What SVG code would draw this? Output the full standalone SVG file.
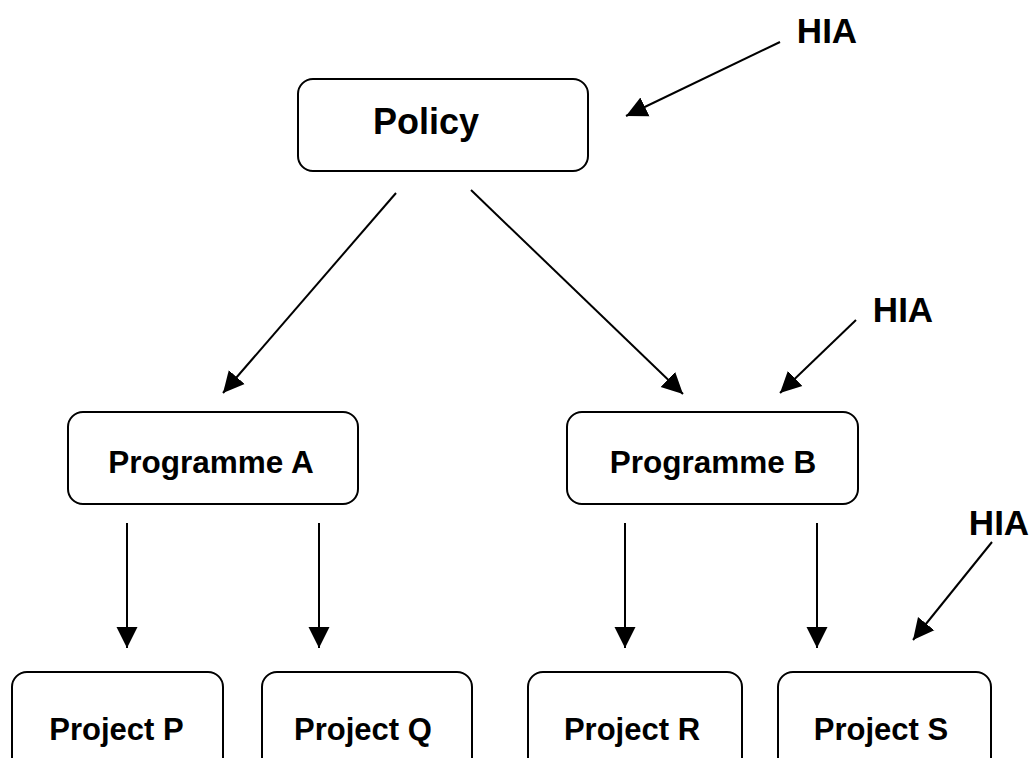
<svg xmlns="http://www.w3.org/2000/svg" width="1032" height="758" viewBox="0 0 1032 758">
<style>
.box{fill:#fff;stroke:#000;stroke-width:2}
.t{font-family:"Liberation Sans",Arial,sans-serif;font-weight:bold;fill:#000;text-anchor:middle}
.c{stroke:#000;stroke-width:2;fill:none;marker-end:url(#ah)}
</style>
<defs>
<marker id="ah" markerUnits="userSpaceOnUse" markerWidth="22" markerHeight="22" refX="21" refY="10.5" orient="auto" viewBox="0 0 22 21">
<path d="M0,0 L21,10.5 L0,21 z" fill="#000"/>
</marker>
</defs>
<rect width="1032" height="758" fill="#fff"/>
<g id="policy"><rect class="box" x="298" y="79" width="290" height="92" rx="15"/><text class="t" x="426" y="134" font-size="36">Policy</text></g>
<g id="progA"><rect class="box" x="68" y="412" width="290" height="92" rx="15"/><text class="t" x="211" y="473" font-size="31.5">Programme A</text></g>
<g id="progB"><rect class="box" x="567" y="412" width="291" height="92" rx="15"/><text class="t" x="713" y="473" font-size="31.5">Programme B</text></g>
<g id="projP"><rect class="box" x="12" y="672" width="211" height="110" rx="15"/><text class="t" x="116.5" y="740" font-size="31">Project P</text></g>
<g id="projQ"><rect class="box" x="262" y="672" width="210" height="110" rx="15"/><text class="t" x="363" y="740" font-size="31">Project Q</text></g>
<g id="projR"><rect class="box" x="528" y="672" width="214" height="110" rx="15"/><text class="t" x="632" y="740" font-size="31">Project R</text></g>
<g id="projS"><rect class="box" x="778" y="672" width="213" height="110" rx="15"/><text class="t" x="881" y="740" font-size="31">Project S</text></g>
<g id="hia1"><text class="t" x="827" y="43" font-size="35">HIA</text></g>
<g id="hia2"><text class="t" x="903" y="322" font-size="35">HIA</text></g>
<g id="hia3"><text class="t" x="999" y="535" font-size="35">HIA</text></g>
<g id="connectors">
<line class="c" x1="780" y1="42" x2="626" y2="116"/>
<line class="c" x1="396" y1="193" x2="223" y2="393"/>
<line class="c" x1="471" y1="190" x2="683" y2="394"/>
<line class="c" x1="856" y1="320" x2="780" y2="393"/>
<line class="c" x1="127" y1="523" x2="127" y2="648"/>
<line class="c" x1="319" y1="523" x2="319" y2="648"/>
<line class="c" x1="625" y1="523" x2="625" y2="648"/>
<line class="c" x1="817" y1="523" x2="817" y2="648"/>
<line class="c" x1="992" y1="542" x2="913" y2="640"/>
</g>
</svg>
